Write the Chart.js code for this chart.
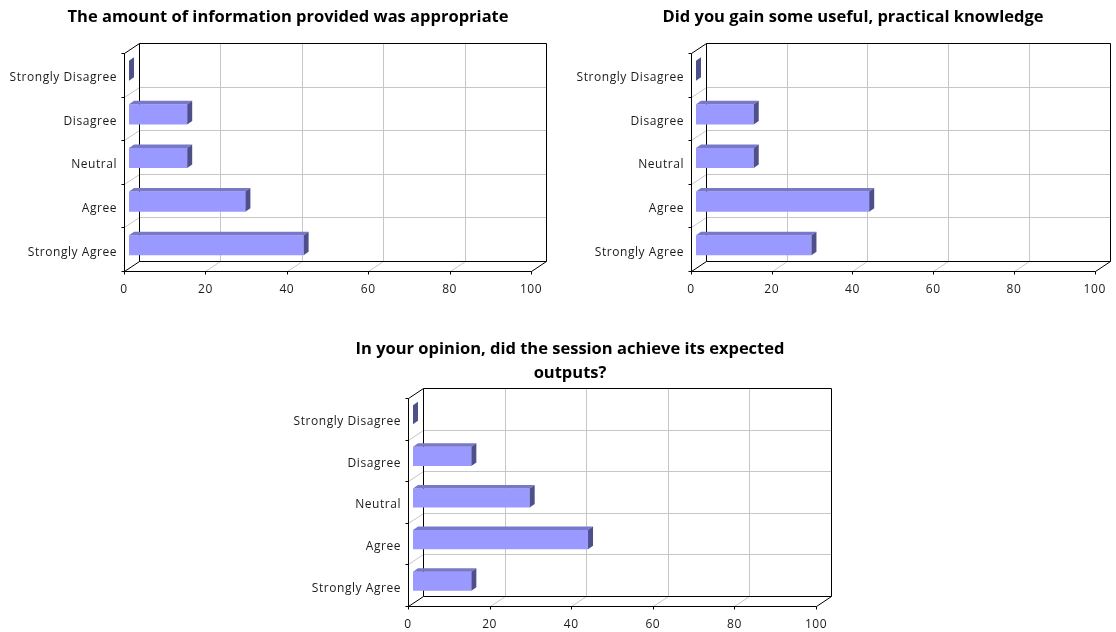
<!DOCTYPE html>
<html>
<head>
<meta charset="utf-8">
<script src="https://cdn.jsdelivr.net/npm/chart.js@4"></script>
<style>
  body { margin: 0; background: #fff; overflow: hidden; }
  canvas { position: absolute; }
</style>
</head>
<body>
<canvas id="chartInfo" width="560" height="300" style="left:0px; top:0px;"></canvas>
<canvas id="chartKnowledge" width="549" height="300" style="left:567px; top:0px;"></canvas>
<canvas id="chartOutputs" width="560" height="305" style="left:284px; top:330px;"></canvas>
<script>
// categorias (de abajo hacia arriba)
var categories = ['Strongly Agree', 'Agree', 'Neutral', 'Disagree', 'Strongly Disagree'];

// valores en %
var infoValues = [42.9, 28.6, 14.3, 14.3, 0];
var knowledgeValues = [28.6, 42.9, 14.3, 14.3, 0];
var outputsValues = [14.3, 42.9, 28.6, 14.3, 0];

var xTicks = [0, 20, 40, 60, 80, 100];

var infoTitle = ['The amount of information provided was appropriate'];
var knowledgeTitle = ['Did you gain some useful, practical knowledge'];
var outputsTitle = ['In your opinion, did the session achieve its expected', 'outputs?'];

// efecto 3D estilo Excel
var DEPTH_X = 15, DEPTH_Y = -10;     // pared del fondo
var SHIFT_X = 5, SHIFT_Y = -4;       // cara frontal de las barras
var BAR_DX = 5, BAR_DY = -3.5;       // profundidad de las barras

Chart.defaults.font.family = "'Open Sans', 'Liberation Sans', sans-serif";
Chart.defaults.color = '#1a1a1a';

function line(ctx, x1, y1, x2, y2) {
    ctx.beginPath();
    ctx.moveTo(x1, y1);
    ctx.lineTo(x2, y2);
    ctx.stroke();
}

var threeDPlugin = {
    id: 'threeD',
    beforeDraw: function (chart) {
        // las etiquetas del original van algo espaciadas
        chart.ctx.letterSpacing = '0.55px';
    },
    beforeDatasetsDraw: function (chart) {
        var ctx = chart.ctx;
        var a = chart.chartArea;
        var xs = chart.scales.x, ys = chart.scales.y;
        var L = Math.round(a.left) + 0.5, R = Math.round(a.right) + 0.5;
        var T = Math.round(a.top) + 0.5, B = Math.round(a.bottom) + 0.5;
        var n = chart.data.labels.length;
        var band = Math.abs(ys.getPixelForValue(1) - ys.getPixelForValue(0));

        // limites de categorias
        var bounds = [];
        for (var i = 0; i < n; i++) {
            bounds.push(Math.round(ys.getPixelForValue(i) + band / 2) + 0.5);
        }
        bounds.push(Math.round(ys.getPixelForValue(n - 1) - band / 2) + 0.5);

        ctx.save();
        ctx.lineWidth = 1;

        // lineas grises
        ctx.strokeStyle = '#c6c6c6';
        xTicks.forEach(function (v) {
            if (v === xTicks[0] || v === xTicks[xTicks.length - 1]) return;
            var px = Math.round(xs.getPixelForValue(v)) + 0.5;
            line(ctx, px + DEPTH_X, T + DEPTH_Y, px + DEPTH_X, B + DEPTH_Y);
            line(ctx, px, B, px + DEPTH_X, B + DEPTH_Y);
        });
        bounds.forEach(function (by) {
            if (by <= T + 1 || by >= B - 1) return;
            line(ctx, L + DEPTH_X, by + DEPTH_Y, R + DEPTH_X, by + DEPTH_Y);
            line(ctx, L, by, L + DEPTH_X, by + DEPTH_Y);
        });

        // marco negro
        ctx.strokeStyle = '#000';
        line(ctx, L, T, L, B);
        line(ctx, L, B, R, B);
        line(ctx, L, T, L + DEPTH_X, T + DEPTH_Y);
        line(ctx, L, B, L + DEPTH_X, B + DEPTH_Y);
        line(ctx, R, B, R + DEPTH_X, B + DEPTH_Y);
        line(ctx, L + DEPTH_X, T + DEPTH_Y, L + DEPTH_X, B + DEPTH_Y);
        line(ctx, L + DEPTH_X, B + DEPTH_Y, R + DEPTH_X, B + DEPTH_Y);
        line(ctx, L + DEPTH_X, T + DEPTH_Y, R + DEPTH_X, T + DEPTH_Y);
        line(ctx, R + DEPTH_X, T + DEPTH_Y, R + DEPTH_X, B + DEPTH_Y);

        // marcas de los ejes
        bounds.forEach(function (by) {
            line(ctx, L - 3, by, L, by);
        });
        xTicks.forEach(function (v) {
            var px = Math.round(xs.getPixelForValue(v)) + 0.5;
            line(ctx, px, B, px, B + 3);
        });
        ctx.restore();

        // desplazar las barras hacia el fondo
        ctx.save();
        ctx.translate(SHIFT_X, SHIFT_Y);
    },
    afterDatasetsDraw: function (chart) {
        var ctx = chart.ctx;
        ctx.restore();

        var meta = chart.getDatasetMeta(0);
        meta.data.forEach(function (bar) {
            var p = bar.getProps(['x', 'y', 'base', 'height'], true);
            var x0 = p.base + SHIFT_X, x1 = p.x + SHIFT_X;
            var top = p.y - p.height / 2 + SHIFT_Y, bot = p.y + p.height / 2 + SHIFT_Y;

            // cara superior
            ctx.fillStyle = '#7878c8';
            ctx.beginPath();
            ctx.moveTo(x0, top);
            ctx.lineTo(x1, top);
            ctx.lineTo(x1 + BAR_DX, top + BAR_DY);
            ctx.lineTo(x0 + BAR_DX, top + BAR_DY);
            ctx.closePath();
            ctx.fill();

            // cara lateral
            ctx.fillStyle = '#4f4f8c';
            ctx.beginPath();
            ctx.moveTo(x1, top);
            ctx.lineTo(x1 + BAR_DX, top + BAR_DY);
            ctx.lineTo(x1 + BAR_DX, bot + BAR_DY);
            ctx.lineTo(x1, bot);
            ctx.closePath();
            ctx.fill();
        });
    },
    // titulo centrado a mano (el del plugin no se puede desplazar)
    afterDraw: function (chart) {
        var t = chart.options.plugins.threeD;
        var ctx = chart.ctx;
        ctx.save();
        ctx.letterSpacing = '0px';
        ctx.fillStyle = '#000';
        ctx.font = "bold 16.5px 'Open Sans', sans-serif";
        ctx.textAlign = 'center';
        ctx.textBaseline = 'middle';
        t.lines.forEach(function (txt, i) {
            ctx.fillText(txt, t.x, t.y + i * t.gap);
        });
        ctx.restore();
    }
};

function makeChart(id, title, values, opts) {
    var ctx = document.getElementById(id).getContext('2d');
    return new Chart(ctx, {
        type: 'bar',
        data: {
            labels: categories,
            datasets: [{
                data: values,
                backgroundColor: '#9999ff',
                borderWidth: 0,
                barPercentage: 0.46,
                categoryPercentage: 1.0,
                clip: false
            }]
        },
        options: {
            indexAxis: 'y',
            responsive: false,
            animation: false,
            layout: {
                padding: { left: 0, right: opts.padRight, top: opts.padTop, bottom: 0 }
            },
            scales: {
                x: {
                    min: 0,
                    max: 100,
                    grid: { display: false, drawTicks: false },
                    border: { display: false },
                    ticks: {
                        stepSize: 20,
                        padding: 11,
                        maxRotation: 0,
                        font: { size: 12 }
                    },
                    afterFit: function (scale) { scale.height = 29; }
                },
                y: {
                    reverse: true,
                    grid: { display: false, drawTicks: false },
                    border: { display: false },
                    ticks: {
                        padding: 7,
                        labelOffset: 3,
                        font: { size: 12 }
                    },
                    afterFit: function (scale) { scale.width = 124; }
                }
            },
            plugins: {
                legend: { display: false },
                tooltip: { enabled: false },
                title: { display: false },
                threeD: { lines: title, x: opts.titleX, y: opts.titleY, gap: 24 }
            }
        },
        plugins: [threeDPlugin]
    });
}

makeChart('chartInfo', infoTitle, infoValues,
    { padRight: 29, padTop: 53, titleX: 288, titleY: 17 });
makeChart('chartKnowledge', knowledgeTitle, knowledgeValues,
    { padRight: 18, padTop: 53, titleX: 286, titleY: 17 });
makeChart('chartOutputs', outputsTitle, outputsValues,
    { padRight: 28, padTop: 68, titleX: 286, titleY: 19 });
</script>
</body>
</html>
